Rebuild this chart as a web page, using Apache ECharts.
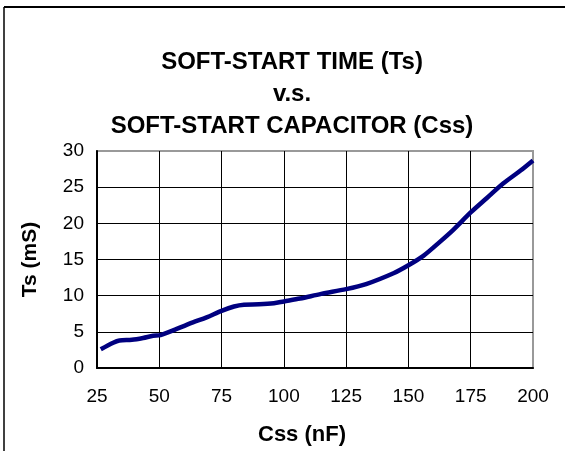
<!DOCTYPE html>
<html>
<head>
<meta charset="utf-8">
<script src="https://cdn.jsdelivr.net/npm/echarts@6/dist/echarts.min.js"></script>
<style>
  html, body { margin: 0; padding: 0; background: #fff; }
  #chart { width: 565px; height: 451px; }
</style>
</head>
<body>
<div id="chart"></div>
<script>
// Css (nF)
var css = [26.5, 31.5, 34, 39, 43.5, 47.5, 50.5, 57, 63.5, 69, 75, 80, 84, 90, 96, 100,
  106.5, 115, 125, 133, 144, 150, 156, 162.5, 168, 175, 181.5, 188, 195, 200];
// Ts (mS)
var ts = [2.6, 3.5, 3.8, 3.9, 4.15, 4.45, 4.55, 5.4, 6.3, 7.0, 7.9, 8.5, 8.75, 8.8, 8.95, 9.2,
  9.6, 10.25, 10.9, 11.6, 13.1, 14.2, 15.5, 17.4, 19.1, 21.5, 23.5, 25.5, 27.3, 28.7];

var titleLines = ['SOFT-START TIME (Ts)', 'v.s.', 'SOFT-START CAPACITOR (Css)'];
var xName = 'Css (nF)';
var yName = 'Ts (mS)';

var font = "'Liberation Sans', Arial, sans-serif";

var points = [];
for (var i = 0; i < css.length; i++) {
  points.push([css[i], ts[i]]);
}

var chart = echarts.init(document.getElementById('chart'), null, { renderer: 'canvas' });

var option = {
  animation: false,
  backgroundColor: '#fff',
  title: {
    text: titleLines.join('\n'),
    left: 292,
    top: 46,
    textAlign: 'center',
    padding: 0,
    textStyle: {
      fontFamily: font,
      fontSize: 24,
      fontWeight: 'bold',
      color: '#000',
      lineHeight: 32
    }
  },
  graphic: [
    { type: 'line', shape: { x1: 4, y1: 7, x2: 565, y2: 7 }, style: { stroke: '#000', lineWidth: 2 } },
    { type: 'line', shape: { x1: 4, y1: 7, x2: 4, y2: 451 }, style: { stroke: '#000', lineWidth: 1.5 } }
  ],
  grid: {
    left: 97,
    right: 32,
    top: 151,
    bottom: 83,
    show: true,
    borderColor: '#999',
    borderWidth: 2
  },
  xAxis: {
    type: 'value',
    min: 25,
    max: 200,
    interval: 25,
    name: xName,
    nameLocation: 'middle',
    nameGap: 56,
    nameTextStyle: {
      fontFamily: font, fontSize: 22, fontWeight: 'bold', color: '#000',
      padding: [0, 26, 0, 0]
    },
    axisLine: { lineStyle: { color: '#000', width: 2 } },
    axisTick: { show: false },
    axisLabel: { fontFamily: font, fontSize: 19, color: '#000', margin: 19 },
    splitLine: { show: true, showMaxLine: false, lineStyle: { color: '#000', width: 1 } }
  },
  yAxis: {
    type: 'value',
    min: 0,
    max: 30,
    interval: 5,
    name: yName,
    nameLocation: 'middle',
    nameGap: 56,
    nameTextStyle: { fontFamily: font, fontSize: 21, fontWeight: 'bold', color: '#000' },
    axisLine: { show: true, lineStyle: { color: '#000', width: 2 } },
    axisTick: { show: false },
    axisLabel: { fontFamily: font, fontSize: 19, color: '#000', margin: 13 },
    splitLine: { show: true, showMaxLine: false, lineStyle: { color: '#000', width: 1 } }
  },
  series: [{
    type: 'line',
    data: points,
    smooth: 0.3,
    showSymbol: false,
    symbol: 'none',
    lineStyle: { color: '#000080', width: 4.5 }
  }]
};

chart.setOption(option);
</script>
</body>
</html>
